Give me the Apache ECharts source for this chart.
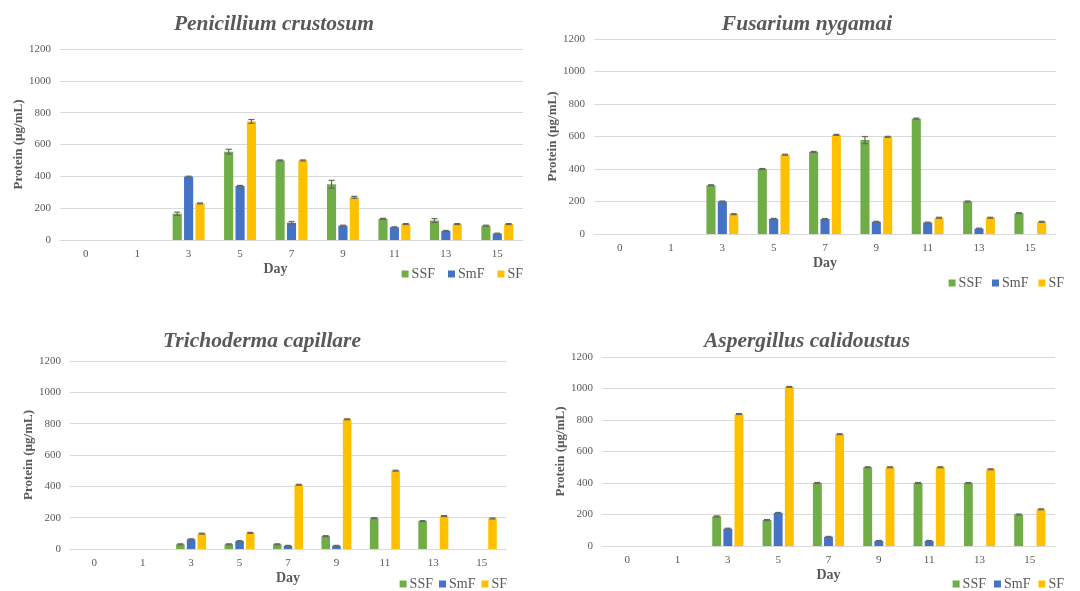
<!DOCTYPE html>
<html>
<head>
<meta charset="utf-8">
<script src="https://cdn.jsdelivr.net/npm/echarts@6/dist/echarts.min.js"></script>
<style>html,body{margin:0;padding:0;background:#fff}#c{width:1080px;height:591px}</style>
</head>
<body>
<div id="c"></div>
<script>
const days = ['0','1','3','5','7','9','11','13','15'];
const seriesNames = ['SSF','SmF','SF'];
const titles = ['Penicillium crustosum','Fusarium nygamai','Trichoderma capillare','Aspergillus calidoustus'];
const yTicks = [0,200,400,600,800,1000,1200];

// Penicillium crustosum
const pcSSF = [0,0,165,555,500,350,133,122,90];
const pcSmF = [0,0,398,340,108,90,80,57,40];
const pcSF  = [0,0,230,745,500,268,100,100,100];
const pcSSFerr = [0,0,10,15,3,25,3,12,3];
const pcSmFerr = [0,0,3,3,8,3,3,3,3];
const pcSFerr  = [0,0,3,12,3,6,3,3,3];
// Fusarium nygamai
const fnSSF = [0,0,300,400,505,578,710,200,128];
const fnSmF = [0,0,200,93,92,75,70,33,0];
const fnSF  = [0,0,122,488,610,598,100,100,75];
const fnSSFerr = [0,0,3,3,3,22,3,3,3];
const fnSmFerr = [0,0,3,3,3,3,3,3,0];
const fnSFerr  = [0,0,3,3,3,3,3,3,3];
// Trichoderma capillare
const tcSSF = [0,0,30,30,30,82,197,178,0];
const tcSmF = [0,0,62,50,20,20,0,0,0];
const tcSF  = [0,0,98,103,410,828,500,210,195];
const tcSSFerr = [0,0,3,3,3,3,3,3,0];
const tcSmFerr = [0,0,3,3,3,3,0,0,0];
const tcSFerr  = [0,0,3,3,3,3,3,3,3];
// Aspergillus calidoustus
const acSSF = [0,0,188,165,400,500,400,400,200];
const acSmF = [0,0,110,210,58,32,32,0,0];
const acSF  = [0,0,838,1010,710,500,500,487,233];
const acSSFerr = [0,0,3,3,3,3,3,3,3];
const acSmFerr = [0,0,3,3,3,3,3,0,0];
const acSFerr  = [0,0,3,3,3,3,3,3,3];

const charts = [
  {vals:[pcSSF,pcSmF,pcSF], errs:[pcSSFerr,pcSmFerr,pcSFerr]},
  {vals:[fnSSF,fnSmF,fnSF], errs:[fnSSFerr,fnSmFerr,fnSFerr]},
  {vals:[tcSSF,tcSmF,tcSF], errs:[tcSSFerr,tcSmFerr,tcSFerr]},
  {vals:[acSSF,acSmF,acSF], errs:[acSSFerr,acSmFerr,acSFerr]}
];

const colors = ['#70AD47','#4472C4','#FFC000'];
const FONT = 'Liberation Serif';
const TXT = '#595959';
const CG = 0.38, BG = 0.25;

const grids = [
  {left:60, top:49, width:463, height:191},
  {left:594, top:39, width:462, height:195},
  {left:70, top:361, width:436, height:188},
  {left:602, top:357, width:453, height:189}
];
const titlePos = [[269,8],[802,8],[257,325],[802,325]];
const legendPos = [
  {right:557, top:267, itemGap:13},
  {right:16, top:276, itemGap:10},
  {right:573, top:577, itemGap:6},
  {right:16, top:577, itemGap:8}
];
const dayShift = [32,0,0,0];

const option = {
  animation:false,
  backgroundColor:'#fff',
  color: colors,
  title: titles.map((t,i)=>({
    text:t, left:titlePos[i][0], top:titlePos[i][1], textAlign:'center',
    textStyle:{fontFamily:FONT, fontSize:21.5, fontWeight:'bold', fontStyle:'italic', color:TXT}
  })),
  legend: legendPos.map((l,i)=>({
    data: seriesNames.map(n=>n+'_'+i),
    formatter: n=>n.split('_')[0],
    right:l.right, top:l.top, itemGap:l.itemGap, padding:0,
    itemWidth:7, itemHeight:7, icon:'rect',
    textStyle:{fontFamily:FONT, fontSize:14, color:TXT, padding:[0,0,0,-2]}
  })),
  grid: grids.map(g=>Object.assign({containLabel:false}, g)),
  xAxis: grids.map((g,i)=>({
    type:'category', gridIndex:i, data:days,
    name:'Day', nameLocation:'middle', nameGap:22,
    nameTextStyle:{fontFamily:FONT, fontSize:14, fontWeight:'bold', color:TXT, padding:[0,dayShift[i],0,0]},
    axisLine:{lineStyle:{color:'#D9D9D9'}},
    axisTick:{show:false},
    axisLabel:{fontFamily:FONT, fontSize:11, color:TXT, margin:9}
  })),
  yAxis: grids.map((g,i)=>({
    type:'value', gridIndex:i, min:0, max:1200, interval:200,
    name:'Protein (µg/mL)', nameLocation:'middle', nameGap:35, nameRotate:90,
    nameTextStyle:{fontFamily:FONT, fontSize:13, fontWeight:'bold', color:TXT},
    axisLine:{show:false}, axisTick:{show:false},
    splitLine:{lineStyle:{color:'#D9D9D9'}},
    axisLabel:{fontFamily:FONT, fontSize:11, color:TXT, margin:9,
      formatter: v=> yTicks.indexOf(v)>=0 ? String(v) : ''}
  })),
  series: []
};

charts.forEach((c,ci)=>{
  c.vals.forEach((arr,si)=>{
    option.series.push({
      type:'bar', name:seriesNames[si]+'_'+ci, xAxisIndex:ci, yAxisIndex:ci,
      data:arr, barCategoryGap:(CG*100)+'%', barGap:(BG*100)+'%',
      itemStyle:{color:colors[si]}
    });
  });
  const edata = [];
  c.vals.forEach((arr,si)=>{
    arr.forEach((v,k)=>{ if (v>0) edata.push([k, v, c.errs[si][k], si]); });
  });
  option.series.push({
    type:'custom', xAxisIndex:ci, yAxisIndex:ci, z:10, silent:true,
    data: edata,
    encode:{x:0, y:1},
    renderItem:(params, api)=>{
      const cat = api.value(0), v = api.value(1), e = api.value(2), si = api.value(3);
      const p = api.coord([cat, v]);
      const band = api.size([1,0])[0];
      const w = band*(1-CG)/(3+2*BG);
      const x = p[0] + (si-1)*w*(1+BG);
      const yt = api.coord([cat, v+e])[1];
      const yb = api.coord([cat, Math.max(0, v-e)])[1];
      const hw = 3;
      const st = {stroke:'#666666', lineWidth:1.2};
      return {type:'group', children:[
        {type:'line', shape:{x1:x, y1:yt, x2:x, y2:yb}, style:st},
        {type:'line', shape:{x1:x-hw, y1:yt, x2:x+hw, y2:yt}, style:st},
        {type:'line', shape:{x1:x-hw, y1:yb, x2:x+hw, y2:yb}, style:st}
      ]};
    }
  });
});

const chart = echarts.init(document.getElementById('c'), null, {renderer:'canvas'});
chart.setOption(option);
</script>
</body>
</html>
